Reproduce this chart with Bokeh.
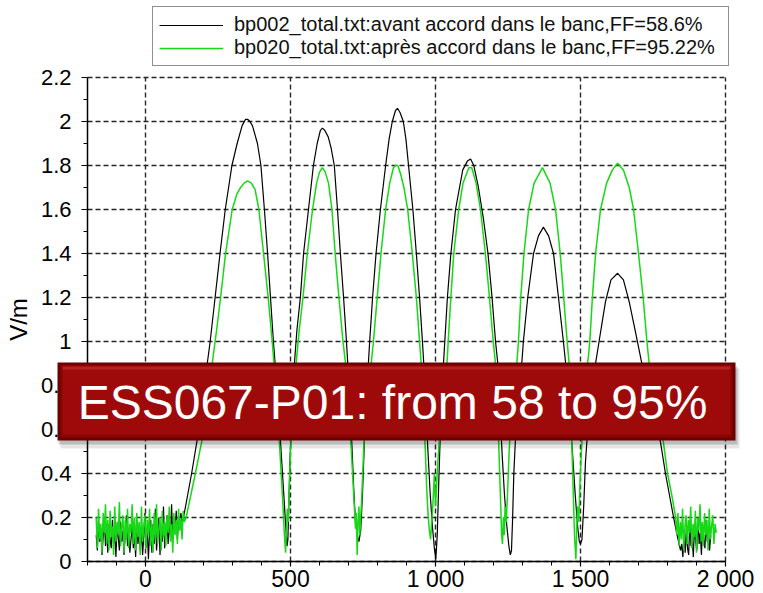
from bokeh.plotting import figure
from bokeh.models import (Range1d, FixedTicker, CustomJSTickFormatter, Legend, LegendItem,
                          BoxAnnotation, Label, Grid)
from bokeh.embed import file_html
from bokeh.resources import INLINE

# ---------------- data ----------------
legend_black = "bp002_total.txt:avant accord dans le banc,FF=58.6%"
legend_green = "bp020_total.txt:après accord dans le banc,FF=95.22%"
banner_text = "ESS067-P01: from 58 to 95%"
y_label = "V/m"

x_bounds = (-200, 2000)
y_bounds = (0, 2.2)
x_major = [0, 500, 1000, 1500, 2000]
x_minor = [-200, -100, 0, 100, 200, 300, 400, 500, 600, 700, 800, 900, 1000,
           1100, 1200, 1300, 1400, 1500, 1600, 1700, 1800, 1900, 2000]
y_major = [0, 0.2, 0.4, 0.6, 0.8, 1.0, 1.2, 1.4, 1.6, 1.8, 2.0, 2.2]
y_minor = [0.1, 0.3, 0.5, 0.7, 0.9, 1.1, 1.3, 1.5, 1.7, 1.9, 2.1]

# black trace (bp002): noisy start, six arches, noisy tail
black_start_x = list(range(-170, 127, 4))
black_start_y = [0.12, 0.05, 0.18, 0.09, 0.15, 0.03, 0.11, 0.20, 0.07, 0.14, 0.04, 0.17, 0.10, 0.06, 0.19, 0.08, 0.13, 0.02, 0.16, 0.11,
                 0.05, 0.18, 0.09, 0.14, 0.03, 0.12, 0.21, 0.07, 0.15, 0.04, 0.10, 0.17, 0.06, 0.13, 0.02, 0.19, 0.08, 0.14, 0.05, 0.16,
                 0.03, 0.11, 0.22, 0.06, 0.15, 0.01, 0.13, 0.19, 0.04, 0.17, 0.08, 0.24, 0.05, 0.12, 0.20, 0.03, 0.16, 0.09, 0.25, 0.06,
                 0.14, 0.21, 0.08, 0.18, 0.11, 0.26, 0.09, 0.19, 0.13, 0.23, 0.10, 0.20, 0.15, 0.22, 0.18]
black_arches = [
    (131, 0.20), (145, 0.30), (159, 0.40), (179, 0.56), (198, 0.76), (213, 0.90), (223, 1.00), (240, 1.20),
    (257, 1.40), (275, 1.60), (298, 1.80), (316, 1.90), (333, 1.98), (345, 2.01), (352, 2.01), (360, 2.00),
    (369, 1.98), (386, 1.90), (398, 1.80), (410, 1.60), (421, 1.40), (431, 1.20), (441, 1.00), (450, 0.85),
    (460, 0.66), (470, 0.45), (478, 0.28), (484, 0.15), (488, 0.07), (491, 0.10), (494, 0.25), (498, 0.45),
    (505, 0.68), (514, 0.91), (522, 1.05), (534, 1.20), (545, 1.40), (562, 1.60), (579, 1.80), (592, 1.90),
    (603, 1.96), (610, 1.97), (618, 1.96), (630, 1.93), (640, 1.88), (651, 1.80), (662, 1.60), (672, 1.40),
    (683, 1.20), (693, 1.00), (697, 0.91), (705, 0.72), (712, 0.52), (718, 0.33), (724, 0.18), (730, 0.12),
    (736, 0.09), (742, 0.14), (748, 0.30), (755, 0.55), (762, 0.78), (769, 0.91), (773, 1.00), (783, 1.20),
    (795, 1.40), (810, 1.60), (828, 1.80), (840, 1.92), (851, 2.00), (862, 2.05), (869, 2.06), (878, 2.04),
    (889, 2.00), (898, 1.92), (907, 1.80), (922, 1.60), (934, 1.40), (945, 1.20), (955, 1.00), (959, 0.91),
    (966, 0.72), (974, 0.50), (982, 0.30), (990, 0.15), (996, 0.06), (1001, 0.01), (1006, 0.12), (1011, 0.35),
    (1017, 0.60), (1024, 0.82), (1028, 0.91), (1032, 1.00), (1041, 1.20), (1053, 1.40), (1069, 1.60), (1094, 1.78),
    (1110, 1.82), (1121, 1.83), (1132, 1.80), (1148, 1.70), (1165, 1.56), (1181, 1.40), (1195, 1.20), (1207, 1.00),
    (1214, 0.91), (1222, 0.70), (1230, 0.48), (1238, 0.30), (1246, 0.16), (1253, 0.07), (1258, 0.03), (1262, 0.05),
    (1266, 0.20), (1270, 0.40), (1278, 0.62), (1290, 0.82), (1298, 0.91), (1303, 1.00), (1318, 1.20), (1338, 1.40),
    (1355, 1.48), (1372, 1.52), (1390, 1.48), (1407, 1.40), (1424, 1.20), (1441, 1.00), (1448, 0.91), (1460, 0.72),
    (1472, 0.50), (1482, 0.30), (1490, 0.16), (1496, 0.09), (1500, 0.08), (1505, 0.10), (1511, 0.25), (1517, 0.45),
    (1527, 0.64), (1540, 0.80), (1553, 0.91), (1564, 1.00), (1586, 1.18), (1605, 1.28), (1628, 1.31), (1648, 1.28),
    (1668, 1.18), (1690, 1.04), (1710, 0.91), (1735, 0.78), (1755, 0.67), (1776, 0.54), (1793, 0.40), (1807, 0.30),
    (1821, 0.20), (1833, 0.12), (1845, 0.05),
]
black_tail_x = list(range(1849, 1950, 4))
black_tail_y = [0.08, 0.02, 0.12, 0.04, 0.15, 0.06, 0.03, 0.18, 0.07, 0.11, 0.02, 0.16, 0.09,
                0.05, 0.20, 0.08, 0.13, 0.03, 0.17, 0.10, 0.06, 0.19, 0.09, 0.14, 0.05, 0.12]

# green trace (bp020)
green_start_x = list(range(-170, 135, 4))
green_start_y = [0.20, 0.06, 0.24, 0.10, 0.17, 0.04, 0.22, 0.13, 0.26, 0.08, 0.19, 0.05, 0.23, 0.11, 0.16, 0.03, 0.25, 0.09, 0.18, 0.12,
                 0.27, 0.07, 0.15, 0.21, 0.04, 0.19, 0.10, 0.24, 0.06, 0.17, 0.13, 0.26, 0.08, 0.20, 0.05, 0.22, 0.11, 0.18, 0.03, 0.25,
                 0.09, 0.16, 0.21, 0.06, 0.19, 0.12, 0.24, 0.07, 0.17, 0.04, 0.22, 0.10, 0.26, 0.08, 0.15, 0.20, 0.05, 0.23, 0.11, 0.18,
                 0.07, 0.21, 0.13, 0.25, 0.09, 0.17, 0.04, 0.22, 0.12, 0.19, 0.08, 0.24, 0.14, 0.20, 0.10, 0.23, 0.18]
green_arches = [
    (140, 0.20), (156, 0.30), (172, 0.40), (196, 0.56), (214, 0.76), (231, 0.91), (245, 1.05), (259, 1.20),
    (276, 1.40), (299, 1.60), (315, 1.67), (328, 1.70), (340, 1.72), (352, 1.73), (365, 1.72), (378, 1.69),
    (391, 1.60), (407, 1.40), (423, 1.20), (437, 1.00), (449, 0.80), (459, 0.60), (467, 0.42), (473, 0.28),
    (476, 0.20), (479, 0.12), (483, 0.04), (486, 0.15), (489, 0.24), (492, 0.18), (495, 0.30), (500, 0.50),
    (510, 0.75), (520, 0.91), (530, 1.05), (543, 1.20), (558, 1.40), (576, 1.60), (590, 1.72), (600, 1.77),
    (610, 1.79), (620, 1.77), (631, 1.72), (643, 1.60), (654, 1.40), (667, 1.20), (681, 1.00), (689, 0.91),
    (700, 0.70), (710, 0.50), (718, 0.30), (724, 0.15), (727, 0.22), (730, 0.03), (733, 0.18), (736, 0.25),
    (739, 0.12), (742, 0.20), (746, 0.30), (752, 0.50), (760, 0.70), (771, 0.85), (779, 0.91), (786, 1.00),
    (799, 1.20), (812, 1.40), (828, 1.60), (842, 1.72), (855, 1.79), (862, 1.80), (870, 1.80), (880, 1.76),
    (891, 1.70), (904, 1.60), (920, 1.40), (934, 1.20), (945, 1.00), (950, 0.91), (958, 0.70), (965, 0.50),
    (970, 0.32), (975, 0.20), (979, 0.14), (983, 0.10), (987, 0.18), (991, 0.26), (996, 0.40), (1000, 0.25),
    (1008, 0.45), (1018, 0.65), (1030, 0.80), (1040, 0.91), (1046, 1.05), (1053, 1.20), (1063, 1.40), (1080, 1.60),
    (1095, 1.72), (1115, 1.79), (1125, 1.79), (1140, 1.72), (1155, 1.60), (1172, 1.40), (1186, 1.20), (1199, 1.00),
    (1206, 0.91), (1214, 0.70), (1220, 0.45), (1225, 0.25), (1228, 0.12), (1231, 0.08), (1234, 0.20), (1237, 0.12),
    (1240, 0.25), (1244, 0.18), (1248, 0.30), (1254, 0.50), (1262, 0.70), (1273, 0.85), (1281, 0.91), (1286, 1.00),
    (1294, 1.20), (1305, 1.40), (1321, 1.60), (1340, 1.72), (1369, 1.79), (1395, 1.72), (1414, 1.60), (1430, 1.40),
    (1442, 1.20), (1454, 1.00), (1460, 0.91), (1466, 0.70), (1472, 0.45), (1477, 0.22), (1480, 0.10), (1484, 0.01),
    (1487, 0.15), (1490, 0.25), (1494, 0.18), (1498, 0.35), (1505, 0.55), (1514, 0.75), (1522, 0.88), (1528, 0.94),
    (1533, 1.02), (1541, 1.20), (1552, 1.40), (1569, 1.60), (1590, 1.72), (1610, 1.78), (1628, 1.81), (1648, 1.78),
    (1668, 1.70), (1683, 1.60), (1700, 1.40), (1716, 1.20), (1729, 1.00), (1736, 0.91), (1755, 0.72), (1786, 0.54),
    (1800, 0.40), (1815, 0.30), (1828, 0.20),
]
green_tail_x = list(range(1832, 1969, 4))
green_tail_y = [0.12, 0.22, 0.07, 0.18, 0.10, 0.24, 0.05, 0.16, 0.21, 0.08, 0.19, 0.13, 0.25, 0.06, 0.17, 0.11, 0.23, 0.04,
                0.20, 0.14, 0.26, 0.09, 0.18, 0.07, 0.22, 0.12, 0.19, 0.05, 0.24, 0.10, 0.16, 0.21, 0.08, 0.17, 0.13]

# ---------------- assemble series ----------------
bx = black_start_x + [a for a, _ in black_arches] + black_tail_x
by = black_start_y + [b for _, b in black_arches] + black_tail_y
gx = green_start_x + [a for a, _ in green_arches] + green_tail_x
gy = green_start_y + [b for _, b in green_arches] + green_tail_y

FONT = "Liberation Sans"
W, H = 763, 593

# The frame fills the whole canvas; axes are pinned at x=-200 / y=0 so that the
# legend and the banner (which lie outside the axes box) are not clipped.
p = figure(width=W, height=H, output_backend="svg", toolbar_location=None,
           x_range=Range1d(-500, 2131), y_range=Range1d(-0.1455, 2.55),
           min_border=0)
p.background_fill_color = "white"
p.border_fill_color = "white"
p.outline_line_color = None

xticker = FixedTicker(ticks=x_major, minor_ticks=x_minor)
yticker = FixedTicker(ticks=y_major, minor_ticks=y_minor)

xa = p.xaxis[0]
ya = p.yaxis[0]
xa.fixed_location = y_bounds[0]
ya.fixed_location = x_bounds[0]
xa.bounds = x_bounds
ya.bounds = y_bounds
xa.ticker = xticker
ya.ticker = yticker
xa.formatter = CustomJSTickFormatter(code="return tick.toFixed(0).replace(/\\B(?=(\\d{3})+(?!\\d))/g, ' ');")
ya.formatter = CustomJSTickFormatter(code="return String(Math.round(tick*10)/10);")
for ax in (xa, ya):
    ax.axis_line_color = "black"
    ax.axis_line_width = 1.5
    ax.major_tick_line_color = "black"
    ax.minor_tick_line_color = "black"
    ax.major_tick_line_width = 1.2
    ax.minor_tick_line_width = 1.0
    ax.major_tick_in = 0
    ax.minor_tick_in = 0
    ax.major_tick_out = 6
    ax.minor_tick_out = 4
    ax.major_label_text_font = FONT
    ax.major_label_text_color = "black"
xa.major_tick_out = 5
xa.major_label_text_font_size = "23px"
ya.major_label_text_font_size = "22px"
xa.major_label_standoff = 0
ya.major_label_standoff = 10
ya.axis_label = y_label
ya.axis_label_text_font = FONT
ya.axis_label_text_font_size = "24px"
ya.axis_label_text_font_style = "normal"
ya.axis_label_text_color = "black"
ya.axis_label_standoff = 6

xg = p.xgrid[0]
yg = p.ygrid[0]
xg.ticker = xticker
yg.ticker = yticker
xg.bounds = x_bounds
yg.bounds = y_bounds
if "cross_bounds" in Grid.properties():
    xg.cross_bounds = y_bounds
    yg.cross_bounds = x_bounds
for g in (xg, yg):
    g.grid_line_color = "#262626"
    g.grid_line_dash = "5 3"
    g.grid_line_width = 1.4

rb = p.line(bx, by, line_color="black", line_width=1.2)
rg = p.line(gx, gy, line_color="#16D816", line_width=1.5)

legend = Legend(items=[LegendItem(label=legend_black, renderers=[rb]),
                       LegendItem(label=legend_green, renderers=[rg])],
                location=(152, H - 66))
legend.border_line_color = "#222222"
legend.border_line_width = 1.2
legend.background_fill_color = "white"
legend.background_fill_alpha = 1
legend.label_text_font = FONT
legend.label_text_font_size = "20px"
legend.label_text_color = "#111111"
legend.glyph_width = 64
legend.glyph_height = 20
legend.label_height = 20
legend.label_width = 488
legend.label_standoff = 11
legend.padding = 6
legend.spacing = 0
legend.margin = 0
p.add_layout(legend)

# red banner overlay (screen pixels from the bottom-left of the canvas)
def sbox(l, r, b, t, color, alpha=1.0):
    return BoxAnnotation(left=l, right=r, bottom=b, top=t,
                         left_units="screen", right_units="screen",
                         top_units="screen", bottom_units="screen",
                         fill_color=color, fill_alpha=alpha, line_color=None)

L, R, B, T = 57, 735, H - 440, H - 362
p.add_layout(sbox(L + 3, R + 4, B - 8, T - 6, "#000000", 0.10))
p.add_layout(sbox(L + 1, R + 2, B - 4, T - 4, "#000000", 0.18))
p.add_layout(sbox(L, R, B, T, "#6A0000"))
p.add_layout(sbox(L + 3, R - 3, B + 3, T - 2, "#8A0404"))
p.add_layout(sbox(L + 5, R - 5, B + 6, T - 4, "#9E0A0A"))
p.add_layout(sbox(L + 5, R - 5, T - 7, T - 4, "#B42222"))
p.add_layout(Label(x=392, y=H - 402, x_units="screen", y_units="screen",
                   text=banner_text, text_align="center", text_baseline="middle",
                   text_font=FONT, text_font_size="48px", text_color="white"))

open("out.html", "w").write(file_html(p, INLINE))
